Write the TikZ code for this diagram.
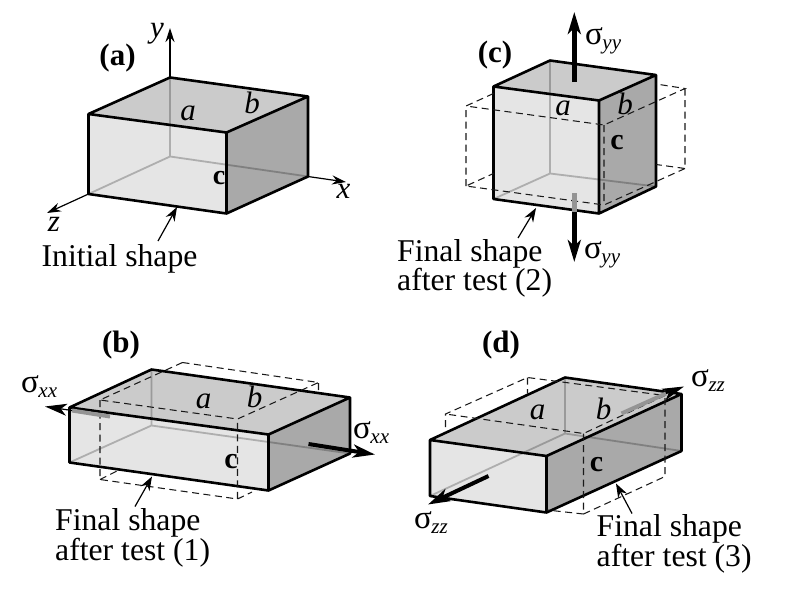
\documentclass[tikz,border=0pt]{standalone}
\usepackage{fontspec}
\setmainfont{Liberation Serif}
\usetikzlibrary{arrows.meta}
\definecolor{topface}{HTML}{CBCBCB}
\definecolor{frontface}{HTML}{E5E5E5}
\definecolor{sideface}{HTML}{A9A9A9}
\tikzset{
  lbl/.style={inner sep=0pt,font=\fontsize{31.7}{29.5}\selectfont,text=black},
  edgelbl/.style={inner sep=0pt,font=\fontsize{31}{31}\selectfont\itshape},
  panel/.style={inner sep=0pt,font=\fontsize{31}{31}\selectfont\bfseries},
  boldc/.style={inner sep=0pt,font=\fontsize{30}{30}\selectfont\bfseries},
  outline/.style={line width=2.6pt,line join=round,line cap=round,black},
  hidden/.style={line width=1.8pt,black,opacity=.24},
  dashline/.style={line width=1.05pt,dash pattern=on 7pt off 4.5pt,black!90},
  axisarrow/.style={line width=1.2pt,-{Stealth[length=14pt,width=9pt]}},
  pointer/.style={line width=1.2pt,-{Stealth[length=14pt,width=10pt]}},
  stress/.style={line width=5pt,-{Stealth[length=22pt,width=13pt,inset=6pt]}},
  stressthin/.style={line width=1.2pt,-{Stealth[length=22pt,width=12pt,inset=6pt]}},
  buried/.style={line width=4pt,black!42},
}
\newcommand{\stresslabel}[1]{{\fontsize{33}{33}\selectfont σ}\kern-0.5pt\raisebox{-5pt}{\fontsize{21}{21}\selectfont\itshape #1}}
\newcommand{\solidbox}[9]{%
  \coordinate (#1tfl) at (#2); \coordinate (#1tbl) at (#3);
  \coordinate (#1tbr) at (#4); \coordinate (#1tfr) at (#5);
  \coordinate (#1bfl) at (#6); \coordinate (#1bfr) at (#7);
  \coordinate (#1bbr) at (#8); \coordinate (#1bbl) at (#9);
  \fill[frontface] (#1tfl) -- (#1tfr) -- (#1bfr) -- (#1bfl) -- cycle;
  \fill[topface] (#1tfl) -- (#1tbl) -- (#1tbr) -- (#1tfr) -- cycle;
  \fill[sideface] (#1tfr) -- (#1tbr) -- (#1bbr) -- (#1bfr) -- cycle;
  \draw[hidden] (#1tbl) -- (#1bbl) (#1bbl) -- (#1bfl) (#1bbl) -- (#1bbr);
  \draw[outline] (#1tfl) -- (#1tbl) -- (#1tbr) -- (#1tfr) -- cycle
     (#1tfr) -- (#1bfr) (#1tfl) -- (#1bfl) -- (#1bfr) -- (#1bbr) -- (#1tbr);
}
\begin{document}
\begin{tikzpicture}[x=1pt,y=-1pt]
\useasboundingbox (0,0) rectangle (791,594);
\fill[white] (0,0) rectangle (791,594);

% ---------- (a) ----------
\coordinate (ytip) at (170,28);
\coordinate (xtip) at (346,182);
\coordinate (ztip) at (47,213);
\solidbox{a}{88.5,114}{170,77.5}{308,96.5}{226.5,132.5}{88.5,194}{226.5,213.5}{308,176.5}{170,156.5}
\draw[axisarrow] (atbl) -- (ytip);
\draw[axisarrow] (abbr) -- (xtip);
\draw[axisarrow] (abfl) -- (ztip);
\node[panel] (lbla) at (117.5,58) {(a)};
\node[edgelbl] (ya) at (157,34) {y};
\node[edgelbl] (xa) at (343.5,191) {x};
\node[edgelbl] (za) at (54,224) {z};
\node[edgelbl] (sa) at (188,113) {a};
\node[edgelbl] (sb) at (252,103) {b};
\node[panel,font=\fontsize{28}{28}\selectfont\bfseries] (sc) at (219,178) {c};
\node[lbl] (init) at (119.5,259) {Initial shape};
\coordinate (inittail) at (158,241);
\coordinate (inithead) at (177,207);
\draw[pointer] (inittail) -- (inithead);

% ---------- (c) ----------
\solidbox{c}{493.5,86.5}{550,60.5}{656,75}{599,100.5}{493.5,199}{599,213.5}{656,186.5}{550,173.5}
\coordinate (cdtfl) at (466,106);
\coordinate (cdtfr) at (604,125);
\coordinate (cdtbr) at (685,88.5);
\coordinate (cdbfl) at (466,186);
\coordinate (cdbfr) at (604,205);
\coordinate (cdbbr) at (685,168.5);
\coordinate (cstub1) at (493.5,93.5);
\coordinate (cstub2) at (656,84);
\coordinate (cstub3) at (493.5,173.5);
\coordinate (cstub4) at (656,164.5);
\draw[dashline] (cstub1) -- (cdtfl) -- (cdtfr) -- (cdtbr) -- (cstub2)
  (cdtbr) -- (cdbbr) -- (cstub4) (cdbbr) -- (cdbfr) -- (cdbfl) -- (cstub3)
  (cdbfl) -- (cdtfl) (cdtfr) -- (cdbfr);
\coordinate (cus) at (574.3,82);
\coordinate (cut) at (574.3,12);
\coordinate (cls) at (574.3,193);
\coordinate (clm) at (574.3,212);
\coordinate (clt) at (574.3,262);
\draw[stress] (cus) -- (cut);
\draw[buried,line width=5pt] (cls) -- (clm);
\draw[stress] (clm) -- (clt);
\node[panel] (lblc) at (495,55) {(c)};
\node[lbl,anchor=west] (csu) at (585,41) {\stresslabel{yy}};
\node[lbl,anchor=west] (csl) at (584,255) {\stresslabel{yy}};
\node[edgelbl] (ca) at (563,108) {a};
\node[edgelbl] (cb) at (625,104) {b};
\node[boldc] (cc) at (617,143) {c};
\node[lbl,align=left,anchor=west] (fin2) at (397,268.5) {Final shape\\after test (2)};
\coordinate (fin2tail) at (518,238);
\coordinate (fin2head) at (536,208);
\draw[pointer] (fin2tail) -- (fin2head);

% ---------- (b) ----------
\solidbox{b}{69.5,407.5}{151.5,369.5}{350,397.5}{268.5,434.5}{69.5,462.5}{268.5,490.5}{350,453.5}{151.5,425.5}
\coordinate (bdtfl) at (100,400);
\coordinate (bdtfr) at (237.5,419);
\coordinate (bdtbr) at (318.5,382.5);
\coordinate (bdtbl) at (182.5,362.5);
\coordinate (bdbfl) at (100,479.5);
\coordinate (bdbfr) at (237.5,499);
\coordinate (bst1) at (318.5,392);
\coordinate (bst2) at (119,470);
\coordinate (bst3) at (252,492);
\draw[dashline] (bdtbl) -- (bdtbr) -- (bst1) (bdtbl) -- (bdtfl) -- (bdtfr) -- (bdtbr)
  (bdtfl) -- (bdbfl) -- (bdbfr) -- (bdtfr) (bdbfl) -- (bst2) (bdbfr) -- (bst3);
\coordinate (bls) at (110,416.5);
\coordinate (blm) at (72,410.5);
\coordinate (blt) at (45,406.5);
\coordinate (brs) at (308.5,444);
\coordinate (brt) at (375,454.5);
\draw[buried] (bls) -- (blm);
\draw[stressthin] (blm) -- (blt);
\draw[stress,line width=4pt] (brs) -- (brt);
\node[panel] (lblb) at (121,345.5) {(b)};
\node[lbl,anchor=west] (bsl) at (21,386.5) {\stresslabel{xx}};
\node[lbl,anchor=west] (bsr) at (353,433) {\stresslabel{xx}};
\node[edgelbl] (ba) at (203.5,401) {a};
\node[edgelbl] (bb) at (254.5,397) {b};
\node[boldc] (bc) at (231,461.5) {c};
\node[lbl,align=left,anchor=west] (fin1) at (55,538) {Final shape\\after test (1)};
\coordinate (fin1tail) at (135,506.5);
\coordinate (fin1head) at (152,476.5);
\draw[pointer] (fin1tail) -- (fin1head);

% ---------- (d) ----------
\solidbox{d}{430,440}{565,377.5}{681.5,394}{546.5,456}{430,496}{546.5,512.5}{681.5,451}{565,433.5}
\coordinate (ddtfl) at (445.5,414);
\coordinate (ddtbl) at (527.5,377.5);
\coordinate (ddtbr) at (665,395.5);
\coordinate (ddtfr) at (583.5,433.5);
\coordinate (ddbfr) at (583.5,514);
\coordinate (ddbbr) at (665,476.5);
\coordinate (dst1) at (445.5,427);
\coordinate (dst2) at (527.5,393.5);
\coordinate (dst3) at (547,510);
\draw[dashline] (dst1) -- (ddtfl) -- (ddtbl) -- (ddtbr) -- (ddtfr) -- (ddtfl)
  (ddtbl) -- (dst2) (ddtfr) -- (ddbfr) -- (ddbbr) -- (ddtbr) (ddbfr) -- (dst3);
\coordinate (dfs) at (488.5,476);
\coordinate (dft) at (428,504.5);
\coordinate (dbs) at (621.5,413.5);
\coordinate (dbm) at (666,393.5);
\coordinate (dbt) at (684,386.5);
\draw[stress,line width=4pt] (dfs) -- (dft);
\draw[buried] (dbs) -- (dbm);
\draw[stressthin] (dbm) -- (dbt);
\node[panel] (lbld) at (501,345.5) {(d)};
\node[lbl,anchor=west] (dsu) at (691,381) {\stresslabel{zz}};
\node[lbl,anchor=west] (dsl) at (414,523) {\stresslabel{zz}};
\node[edgelbl] (da) at (537.5,412.5) {a};
\node[edgelbl] (db) at (603.5,408.5) {b};
\node[boldc] (dc) at (596.5,464.5) {c};
\node[lbl,align=left,anchor=west] (fin3) at (596.5,544) {Final shape\\after test (3)};
\coordinate (fin3tail) at (632,513.5);
\coordinate (fin3head) at (616,483.5);
\draw[pointer] (fin3tail) -- (fin3head);
\end{tikzpicture}
\end{document}
